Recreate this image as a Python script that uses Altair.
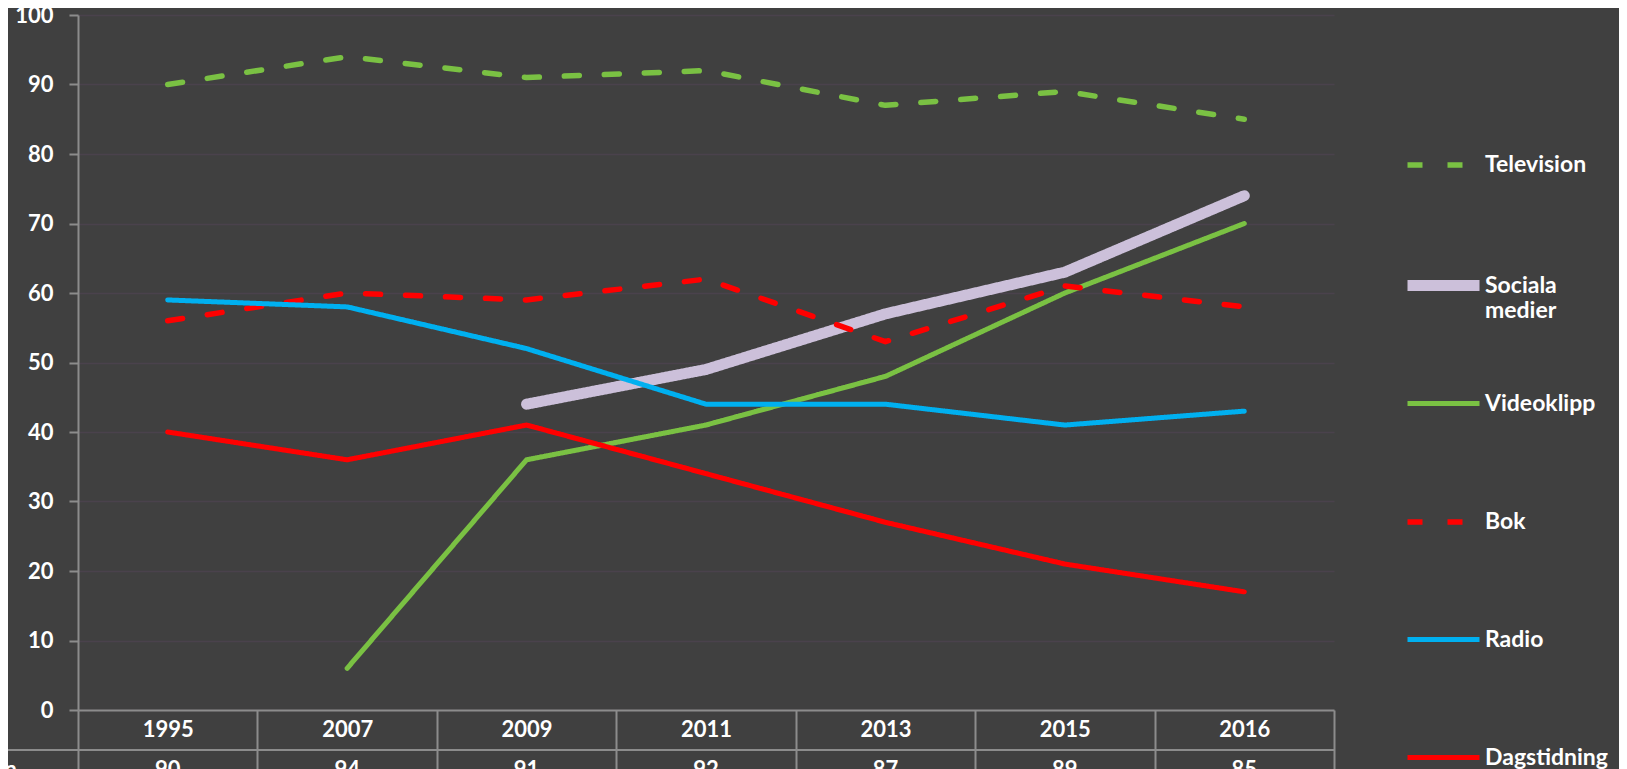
import altair as alt
import pandas as pd

years = ["1995", "2007", "2009", "2011", "2013", "2015", "2016"]
series = ["Television", "Sociala medier", "Videoklipp", "Bok", "Radio", "Dagstidning"]
television = [90, 94, 91, 92, 87, 89, 85]
sociala = [None, None, 44, 49, 57, 63, 74]
videoklipp = [None, 6, 36, 41, 48, 60, 70]
bok = [56, 60, 59, 62, 53, 61, 58]
radio = [59, 58, 52, 44, 44, 41, 43]
dagstidning = [40, 36, 41, 34, 27, 21, 17]

values = {
    "Television": television,
    "Sociala medier": sociala,
    "Videoklipp": videoklipp,
    "Bok": bok,
    "Radio": radio,
    "Dagstidning": dagstidning,
}
colors = ["#7AC143", "#CCC0DA", "#7AC143", "#FF0000", "#00B0F0", "#FF0000"]
dashes = [[15, 25], [1, 0], [1, 0], [15, 25], [1, 0], [1, 0]]
widths = [5.5, 11, 5, 5.5, 5, 5]

rows = []
for s in series:
    for y, v in zip(years, values[s]):
        rows.append({"year": y, "series": s, "value": v})
df = pd.DataFrame(rows)

FONT = "Lato"
AX = "#8C8C8C"
LABEL_EXPR = "datum.label == 'Sociala medier' ? ['Sociala', 'medier'] : [datum.label, '']"

x_enc = alt.X(
    "year:N",
    sort=years,
    scale=alt.Scale(domain=years, paddingInner=0, paddingOuter=0),
    axis=alt.Axis(
        title=None, labelAngle=0, labelFontSize=22, labelFontWeight="bold",
        labelColor="white", labelFont=FONT, domainColor=AX, domainWidth=2,
        tickBand="extent", tickSize=60, tickColor=AX, tickWidth=2,
        labelPadding=-51, labelBaseline="top", grid=False,
    ),
)
y_enc = alt.Y(
    "value:Q",
    scale=alt.Scale(domain=[0, 100], nice=False),
    axis=alt.Axis(
        title=None, values=list(range(0, 101, 10)), labelFontSize=22,
        labelFontWeight="bold", labelColor="white", labelFont=FONT,
        domainColor=AX, domainWidth=2, tickColor=AX, tickWidth=2, tickSize=9,
        labelPadding=16, grid=True, gridColor="#4A424C", gridWidth=1.5,
    ),
)

color_enc = alt.Color("series:N", scale=alt.Scale(domain=series, range=colors),
                      legend=alt.Legend(title=None, labelExpr=LABEL_EXPR))
dash_enc = alt.StrokeDash("series:N", scale=alt.Scale(domain=series, range=dashes),
                          legend=alt.Legend(title=None, labelExpr=LABEL_EXPR))
width_enc = alt.StrokeWidth("series:N", scale=alt.Scale(type="ordinal", domain=series, range=widths),
                            legend=alt.Legend(title=None, labelExpr=LABEL_EXPR))

draw_order = ["Television", "Sociala medier", "Videoklipp", "Bok", "Radio", "Dagstidning"]
layers = []
for s in draw_order:
    layers.append(
        alt.Chart(df)
        .transform_filter(alt.datum.series == s)
        .mark_line(strokeCap="round", strokeJoin="round")
        .encode(x=x_enc, y=y_enc, color=color_enc, strokeDash=dash_enc, strokeWidth=width_enc)
    )

tv_df = pd.DataFrame({"year": years, "value": television})
table_text = alt.Chart(tv_df).mark_text(
    font=FONT, fontSize=22, fontWeight="bold", color="white", baseline="middle"
).encode(x=alt.X("year:N", sort=years), y=alt.value(755), text="value:Q")

row_label = alt.Chart(pd.DataFrame({"label": ["Television"]})).mark_text(
    font=FONT, fontSize=22, fontWeight="bold", color="white", align="right", baseline="middle"
).encode(x=alt.value(-61), y=alt.value(755), text="label:N")

table_rule = alt.Chart(pd.DataFrame({"k": [0]})).mark_rule(color=AX, strokeWidth=2).encode(
    x=alt.value(-80), x2=alt.value(1256), y=alt.value(735)
)

chart = (
    alt.layer(*layers, table_rule, table_text, row_label)
    .properties(
        width=1256, height=695,
        autosize=alt.AutoSizeParams(type="none"),
        padding={"left": 70, "top": 7, "right": 285, "bottom": 60},
        background="#404040",
    )
    .configure_view(stroke=None)
    .configure_legend(
        orient="none", legendX=1324, legendY=111, padding=0,
        symbolType="stroke", symbolSize=5184, rowPadding=42,
        labelFont=FONT, labelFontSize=23, labelFontWeight="bold", labelColor="white",
        labelOffset=0, labelLimit=300,
    )
)

chart.save("out.html", embed_options={"renderer": "svg", "actions": False})
